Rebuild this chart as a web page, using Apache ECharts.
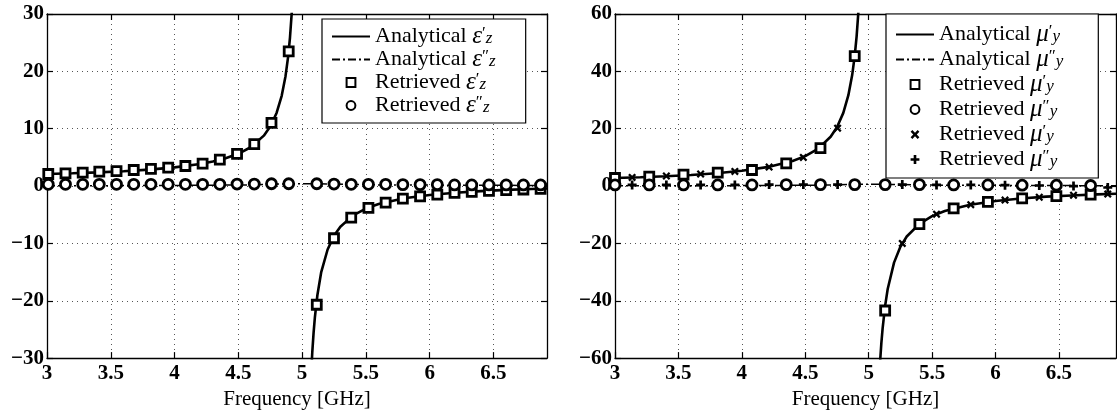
<!DOCTYPE html>
<html>
<head>
<meta charset="utf-8">
<script src="https://cdn.jsdelivr.net/npm/echarts@6.0.0/dist/echarts.min.js"></script>
<style>
	html, body { margin: 0; padding: 0; background: #fff; }
	#chart { width: 1117px; height: 415px; }
</style>
</head>
<body>
<div id="chart"></div>
<script>
// ---- left panel: eps_z ----
// analytical eps' (two branches around the resonance)
var epsLineUpF = [3.0, 3.2, 3.4, 3.6, 3.8, 4.0, 4.2, 4.3, 4.4, 4.5, 4.6, 4.7, 4.75, 4.8, 4.84, 4.87, 4.89, 4.905, 4.92, 4.93];
var epsLineUpV = [2.10, 2.22, 2.38, 2.59, 2.86, 3.25, 3.84, 4.27, 4.83, 5.62, 6.81, 8.79, 10.37, 12.75, 15.73, 19.16, 22.49, 25.9, 30.6, 34.9];
var epsLineLoF = [5.07, 5.08, 5.09, 5.1, 5.12, 5.15, 5.2, 5.25, 5.3, 5.4, 5.5, 5.6, 5.8, 6.0, 6.2, 6.4, 6.6, 6.8, 6.92];
var epsLineLoV = [-33.2, -28.9, -25.6, -22.95, -19.0, -15.0, -11.06, -8.68, -7.09, -5.11, -3.92, -3.13, -2.14, -1.55, -1.16, -0.88, -0.67, -0.51, -0.43];
// analytical eps''
var epsImagF = [3.0, 4.0, 4.6, 4.9, 5.1, 5.6, 6.92];
var epsImagV = [0.05, 0.1, 0.2, 0.4, 0.4, 0.2, 0.1];
// retrieved
var epsRetF = [3.01, 3.145, 3.28, 3.41, 3.545, 3.68, 3.815, 3.95, 4.085, 4.22, 4.355, 4.49, 4.625, 4.76, 4.895,
	5.115, 5.25, 5.385, 5.52, 5.655, 5.79, 5.925, 6.06, 6.195, 6.33, 6.465, 6.6, 6.735, 6.87];
var epsRetReal = [2.1, 2.2, 2.35, 2.5, 2.6, 2.8, 3.0, 3.2, 3.5, 3.9, 4.6, 5.6, 7.3, 11.0, 23.5,
	-20.7, -9.1, -5.5, -3.8, -2.9, -2.2, -1.8, -1.5, -1.2, -1.0, -0.85, -0.7, -0.6, -0.5];
var epsRetImag = [0.3, 0.3, 0.3, 0.3, 0.3, 0.3, 0.3, 0.3, 0.3, 0.3, 0.3, 0.35, 0.35, 0.4, 0.4,
	0.4, 0.35, 0.3, 0.3, 0.3, 0.25, 0.25, 0.25, 0.2, 0.2, 0.2, 0.2, 0.2, 0.2];

// ---- right panel: mu_y ----
var muLineUpF = [3.0, 3.2, 3.4, 3.6, 3.8, 4.0, 4.2, 4.4, 4.5, 4.6, 4.7, 4.75, 4.8, 4.84, 4.87, 4.89, 4.905, 4.92, 4.93];
var muLineUpV = [2.80, 3.07, 3.42, 3.87, 4.47, 5.32, 6.59, 8.72, 10.43, 12.97, 17.19, 20.53, 25.52, 31.68, 38.71, 45.42, 52.22, 61.43, 69.6];
var muLineLoF = [5.085, 5.09, 5.1, 5.11, 5.13, 5.15, 5.2, 5.25, 5.3, 5.4, 5.5, 5.6, 5.8, 6.0, 6.2, 6.4, 6.6, 6.8, 6.95];
var muLineLoV = [-65.1, -61.3, -54.8, -49.6, -41.7, -35.9, -26.7, -21.2, -17.6, -13.2, -10.5, -8.7, -6.5, -5.2, -4.35, -3.7, -3.3, -2.9, -2.7];
var muImagF = [3.0, 4.0, 4.6, 4.9, 5.1, 5.6, 6.95];
var muImagV = [0.1, 0.15, 0.3, 0.6, 0.6, 0.3, 0.1];
// retrieved (squares / circles)
var muSqF = [3.0, 3.27, 3.54, 3.81, 4.08, 4.35, 4.62, 4.89, 5.13, 5.40, 5.67, 5.94, 6.21, 6.48, 6.75];
var muSqV = [2.8, 3.3, 4.0, 4.7, 5.6, 7.9, 13.2, 45.3, -43.4, -13.3, -7.8, -5.5, -4.3, -3.5, -3.0];
var muCircV = [0.4, 0.4, 0.4, 0.4, 0.4, 0.5, 0.5, 0.5, 0.5, 0.5, 0.4, 0.4, 0.3, 0.3, 0.2];
// retrieved (crosses / pluses)
var muXF = [3.135, 3.405, 3.675, 3.945, 4.215, 4.485, 4.755, 5.265, 5.535, 5.805, 6.075, 6.345, 6.615, 6.885];
var muXV = [3.0, 3.5, 4.2, 5.1, 6.6, 10.0, 20.2, -20.0, -9.8, -6.5, -4.9, -3.9, -3.2, -2.8];
var muPlusV = [0.4, 0.4, 0.4, 0.4, 0.5, 0.5, 0.5, 0.5, 0.4, 0.4, 0.3, 0.2, 0.0, -0.5];

var xTicks = [3, 3.5, 4, 4.5, 5, 5.5, 6, 6.5];

(function() {
	var FONT = "'Liberation Serif', 'DejaVu Serif', serif";

	function pts(f, v) {
		return f.map(function (x, i) { return [x, v[i]]; });
	}
	// join two branches with a break in between
	function branches(f1, v1, f2, v2) {
		return pts(f1, v1).concat([[(f1[f1.length - 1] + f2[0]) / 2, '-']], pts(f2, v2));
	}

	var minus = function (v) { return String(v).replace('-', '\u2212'); };

	function xAxis(gi, max, top) {
		return {
			gridIndex: gi, type: 'value', min: 3, max: max, interval: 0.5,
			position: top ? 'top' : 'bottom',
			axisLine: { show: true, onZero: false, lineStyle: { color: '#000', width: 1.3 } },
			axisTick: { show: true, inside: true, length: 6, lineStyle: { color: '#000', width: 1.2 } },
			axisLabel: {
				show: !top, margin: 5, color: '#000', fontFamily: FONT, fontSize: 21, fontWeight: 'bold',
				showMaxLabel: false,
				formatter: function (v) { return xTicks.indexOf(v) >= 0 ? String(v) : ''; }
			},
			splitLine: { show: !top, lineStyle: { color: '#555', type: [1, 4], width: 1 } },
			name: top ? '' : 'Frequency [GHz]',
			nameLocation: 'middle', nameGap: 28,
			nameTextStyle: { color: '#000', fontFamily: FONT, fontSize: 21 }
		};
	}

	function yAxis(gi, lim, step, right) {
		return {
			gridIndex: gi, type: 'value', min: -lim, max: lim, interval: step,
			position: right ? 'right' : 'left',
			axisLine: { show: true, onZero: false, lineStyle: { color: '#000', width: 1.3 } },
			axisTick: { show: true, inside: true, length: 6, lineStyle: { color: '#000', width: 1.2 } },
			axisLabel: { show: !right, margin: 3, color: '#000', fontFamily: FONT, fontSize: 21, fontWeight: 'bold', formatter: minus },
			splitLine: { show: !right, lineStyle: { color: '#555', type: [1, 4], width: 1 } }
		};
	}

	var lineStyleSolid = { color: '#000', width: 2.6 };
	var lineStyleDashDot = { color: '#000', width: 1.5, type: [8, 3, 2, 3] };
	var mark = { color: '#fff', borderColor: '#000', borderWidth: 2.8 };
	var crossPath = 'path://M2,0L5,3L8,0L10,2L7,5L10,8L8,10L5,7L2,10L0,8L3,5L0,2Z';
	var plusPath = 'path://M3.5,0H6.5V3.5H10V6.5H6.5V10H3.5V6.5H0V3.5H3.5Z';

	function curve(name, xi, yi, data, ls, z) {
		return {
			name: name, type: 'line', xAxisIndex: xi, yAxisIndex: yi, data: data,
			symbol: 'none', lineStyle: ls, itemStyle: { color: '#000', opacity: 0 }, z: z, silent: true
		};
	}
	function markers(name, xi, yi, data, symbol, size, style) {
		return {
			name: name, type: 'line', xAxisIndex: xi, yAxisIndex: yi, data: data,
			symbol: symbol, symbolSize: size, showAllSymbol: true,
			lineStyle: { width: 0, opacity: 0 }, itemStyle: style, z: 5, silent: true
		};
	}

	// legend labels with eps / mu, primes and subscripts
	var labels = {
		'Analytical ε′z': 'Analytical {g|ε}{sp|′}{sb|z}',
		'Analytical ε″z': 'Analytical {g|ε}{sp|″}{sb|z}',
		'Retrieved ε′z': 'Retrieved {g|ε}{sp|′}{sb|z}',
		'Retrieved ε″z': 'Retrieved {g|ε}{sp|″}{sb|z}',
		'Analytical μ′y': 'Analytical {g|μ}{sp|′}{sb|y}',
		'Analytical μ″y': 'Analytical {g|μ}{sp|″}{sb|y}',
		'Retrieved μ′y': 'Retrieved {g|μ}{sp|′}{sb|y}',
		'Retrieved μ″y': 'Retrieved {g|μ}{sp|″}{sb|y}'
	};
	var rich = {
		g: { fontFamily: FONT, fontSize: 25, fontStyle: 'italic', color: '#000', lineHeight: 22 },
		sp: { fontFamily: FONT, fontSize: 17, color: '#000', verticalAlign: 'top', lineHeight: 12 },
		sb: { fontFamily: FONT, fontSize: 17, fontStyle: 'italic', color: '#000', verticalAlign: 'bottom', lineHeight: 12 }
	};
	function legend(left, top, data, gap, pad) {
		return {
			orient: 'vertical', left: left, top: top, data: data,
			itemWidth: 38, itemHeight: 11, itemGap: gap,
			padding: pad,
			backgroundColor: '#fff', borderColor: '#000', borderWidth: 1.2,
			selectedMode: false,
			textStyle: { fontFamily: FONT, fontSize: 22, color: '#000', lineHeight: 22, rich: rich },
			formatter: function (n) { return labels[n.trim()] || n; }
		};
	}

	var myChart = echarts.init(document.getElementById('chart'), null, { renderer: 'canvas' });
	var option = {
		animation: false,
		backgroundColor: '#fff',
		grid: [
			{ left: 47, top: 14, width: 500, height: 347 },
			{ left: 615, top: 14, width: 501, height: 347 }
		],
		xAxis: [xAxis(0, 6.92, false), xAxis(0, 6.92, true), xAxis(1, 6.95, false), xAxis(1, 6.95, true)],
		yAxis: [yAxis(0, 30, 10, false), yAxis(0, 30, 10, true), yAxis(1, 60, 20, false), yAxis(1, 60, 20, true)],
		legend: [
			legend(322, 19, ['Analytical ε′z', 'Analytical ε″z', 'Retrieved ε′z', 'Retrieved ε″z'], -2, [5, 30, 5, 9]),
			legend(886, 14, ['Analytical μ′y', 'Analytical μ″y', 'Retrieved μ′y', 'Retrieved μ″y', 'Retrieved μ′y ', 'Retrieved μ″y '], 0, [8, 35, 6, 9])
		],
		series: [
			// left
			curve('Analytical ε′z', 0, 0, branches(epsLineUpF, epsLineUpV, epsLineLoF, epsLineLoV), lineStyleSolid, 3),
			curve('Analytical ε″z', 0, 0, pts(epsImagF, epsImagV), lineStyleDashDot, 2),
			markers('Retrieved ε′z', 0, 0, pts(epsRetF, epsRetReal), 'rect', 9, mark),
			markers('Retrieved ε″z', 0, 0, pts(epsRetF, epsRetImag), 'circle', 10, mark),
			// right
			curve('Analytical μ′y', 2, 2, branches(muLineUpF, muLineUpV, muLineLoF, muLineLoV), lineStyleSolid, 3),
			curve('Analytical μ″y', 2, 2, pts(muImagF, muImagV), lineStyleDashDot, 2),
			markers('Retrieved μ′y', 2, 2, pts(muSqF, muSqV), 'rect', 9, mark),
			markers('Retrieved μ″y', 2, 2, pts(muSqF, muCircV), 'circle', 10, mark),
			markers('Retrieved μ′y ', 2, 2, pts(muXF, muXV), crossPath, 8, { color: '#000' }),
			markers('Retrieved μ″y ', 2, 2, pts(muXF, muPlusV), plusPath, 9, { color: '#000' })
		]
	};
	myChart.setOption(option);
}).call(this);
</script>
</body>
</html>
